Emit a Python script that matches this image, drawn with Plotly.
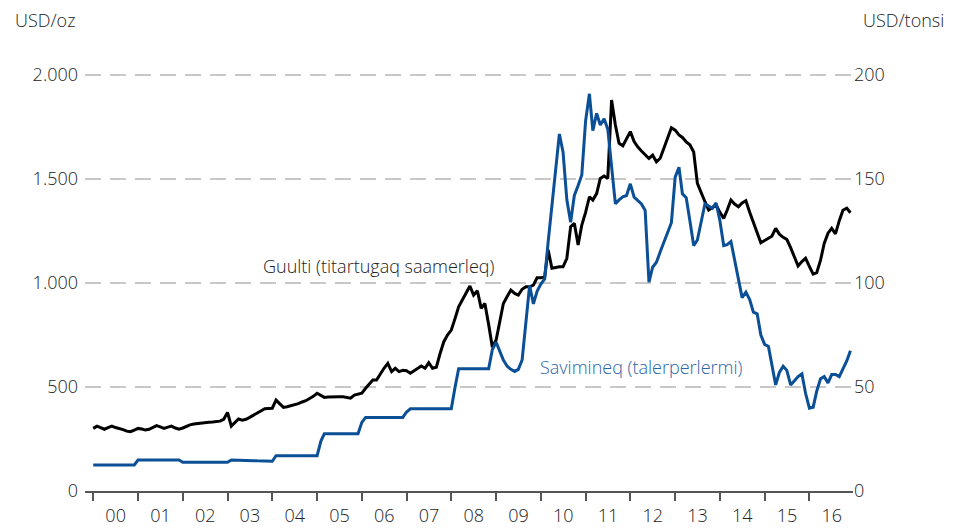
import pandas as pd
import plotly.graph_objects as go

# monthly values, Jan 2000 - Dec 2016
months = pd.date_range("2000-01-01", "2016-12-01", freq="MS")

gold = [
    301, 312, 305, 297, 305, 312, 305, 301, 295, 288, 285, 293,          # 2000
    301, 298, 293, 297, 305, 314, 308, 301, 307, 312, 303, 297,          # 2001
    303, 312, 318, 322, 325, 328, 330, 331, 332, 333, 336, 345,          # 2002
    378, 312, 330, 346, 341, 345, 354, 365, 373, 385, 396, 397,          # 2003
    398, 437, 420, 402, 405, 410, 413, 420, 428, 434, 445, 455,          # 2004
    470, 458, 450, 452, 453, 455, 453, 453, 450, 446, 461, 465,          # 2005
    470, 494, 515, 534, 534, 565, 590, 614, 574, 590, 574, 580,          # 2006
    578, 566, 578, 588, 601, 590, 617, 590, 595, 660, 718, 750,          # 2007
    774, 830, 886, 920, 955, 986, 942, 963, 878, 902, 800, 691,          # 2008
    726, 820, 902, 935, 966, 950, 942, 970, 982, 982, 990, 1025,         # 2009
    1025, 1030, 1160, 1071, 1075, 1078, 1078, 1119, 1271, 1287, 1183, 1279,  # 2010
    1340, 1415, 1399, 1430, 1503, 1515, 1503, 1880, 1760, 1672, 1660, 1695,  # 2011
    1728, 1680, 1655, 1635, 1615, 1599, 1615, 1583, 1600, 1650, 1700, 1747,  # 2012
    1735, 1712, 1700, 1679, 1665, 1630, 1479, 1430, 1391, 1351, 1362, 1375,  # 2013
    1340, 1311, 1350, 1399, 1380, 1367, 1385, 1396, 1340, 1290, 1240, 1194,  # 2014
    1205, 1215, 1225, 1263, 1235, 1220, 1210, 1170, 1120, 1082, 1103, 1119,  # 2015
    1080, 1043, 1050, 1110, 1190, 1240, 1263, 1236, 1300, 1350, 1360, 1338,  # 2016
]

iron = [
    12.5, 12.5, 12.5, 12.5, 12.5, 12.5, 12.5, 12.5, 12.5, 12.5, 12.5, 12.5,  # 2000
    14.9, 14.9, 14.9, 14.9, 14.9, 14.9, 14.9, 14.9, 14.9, 14.9, 14.9, 14.9,  # 2001
    13.8, 13.8, 13.8, 13.8, 13.8, 13.8, 13.8, 13.8, 13.8, 13.8, 13.8, 13.8,  # 2002
    13.8, 14.9, 14.9, 14.8, 14.8, 14.7, 14.7, 14.6, 14.5, 14.5, 14.4, 14.3,  # 2003
    14.3, 17.0, 17.0, 17.0, 17.0, 17.0, 17.0, 17.0, 17.0, 17.0, 17.0, 17.0,  # 2004
    17.0, 24.0, 27.5, 27.5, 27.5, 27.5, 27.5, 27.5, 27.5, 27.5, 27.5, 27.5,  # 2005
    33.0, 35.4, 35.4, 35.4, 35.4, 35.4, 35.4, 35.4, 35.4, 35.4, 35.4, 35.4,  # 2006
    38.0, 39.5, 39.5, 39.5, 39.5, 39.5, 39.5, 39.5, 39.5, 39.5, 39.5, 39.5,  # 2007
    39.5, 50.0, 58.8, 58.8, 58.8, 58.8, 58.8, 58.8, 58.8, 58.8, 58.8, 68.0,  # 2008
    71.5, 67.0, 63.0, 60.0, 58.5, 57.5, 58.5, 63.0, 80.0, 98.8, 90.0, 96.0,  # 2009
    99.5, 102.0, 119.6, 137.0, 154.0, 171.7, 162.9, 140.0, 129.2, 142.1, 146.9, 152.0,  # 2010
    178.0, 191.0, 173.3, 181.6, 176.0, 179.0, 174.0, 155.0, 138.1, 140.0, 141.5, 142.1,  # 2011
    147.7, 141.3, 139.5, 138.0, 134.9, 100.4, 107.6, 110.0, 115.0, 119.5, 124.0, 129.0,  # 2012
    150.9, 155.7, 142.9, 141.0, 130.0, 118.0, 120.7, 129.4, 138.1, 137.0, 136.0, 138.5,  # 2013
    130.0, 118.0, 118.5, 120.0, 111.0, 103.0, 93.0, 95.6, 92.0, 86.0, 85.2, 75.0,  # 2014
    70.5, 69.5, 61.0, 51.0, 57.0, 60.0, 58.0, 51.0, 53.0, 55.0, 56.3, 47.0,  # 2015
    39.8, 40.3, 48.0, 54.0, 55.0, 52.0, 56.0, 56.0, 55.0, 58.5, 62.5, 67.5,  # 2016
]

left_ticks = [0, 500, 1000, 1500, 2000]
right_ticks = [0, 50, 100, 150, 200]

FONT = "Open Sans"
TXT = "#222222"
BLUE = "#0b4f96"
tfont = dict(family=FONT, size=18, color=TXT, weight=300)

fig = go.Figure()
fig.add_trace(go.Scatter(x=months, y=gold, mode="lines",
                         line=dict(color="black", width=3), yaxis="y"))
fig.add_trace(go.Scatter(x=months, y=iron, mode="lines",
                         line=dict(color=BLUE, width=3), yaxis="y2"))

# page has an 8px body margin, so the figure is 8px smaller than the window
fig.update_layout(
    width=955, height=523,
    margin=dict(l=77, r=110, t=65, b=40),
    plot_bgcolor="white", paper_bgcolor="white",
    showlegend=False,
    separators=",.",
    font=tfont,
    xaxis=dict(
        type="date", automargin=False,
        range=["1999-10-26", "2016-12-22"],
        dtick="M12", tick0="2000-01-01",
        tickformat="%y", ticklabelmode="period",
        ticks="outside", ticklen=8, tickcolor="#555555", tickwidth=1.5,
        showline=True, linecolor="#555555", linewidth=1.5,
        showgrid=False, zeroline=False,
        tickfont=tfont,
    ),
    yaxis=dict(
        range=[0, 2010], tickvals=left_ticks, tickformat=",", automargin=False,
        showgrid=True, gridcolor="#c8c8c8", griddash="16px,9px", gridwidth=1.5,
        zeroline=False, showline=False, ticks="", ticklabelstandoff=6,
        tickfont=tfont,
    ),
    yaxis2=dict(
        range=[0, 201], tickvals=right_ticks, overlaying="y", side="right",
        automargin=False,
        showgrid=False, zeroline=False, showline=False, ticks="",
        tickfont=tfont,
    ),
    annotations=[
        dict(text="USD/oz", xref="paper", yref="paper", x=-0.094, y=1.127,
             xanchor="left", yanchor="middle", showarrow=False, font=tfont),
        dict(text="USD/tonsi", xref="paper", yref="paper", x=1.01, y=1.127,
             xanchor="left", yanchor="middle", showarrow=False, font=tfont),
        dict(text="Guulti (titartugaq saamerleq)", x="2003-10-05", y=1081,
             xanchor="left", yanchor="middle", showarrow=False, font=tfont),
        dict(text="Savimineq (talerperlermi)", x="2009-12-10", y=59.5,
             yref="y2", xanchor="left", yanchor="middle", showarrow=False,
             font=dict(family=FONT, size=18, color="#2a64a8", weight=300)),
    ],
)

fig.write_html("out.html")
